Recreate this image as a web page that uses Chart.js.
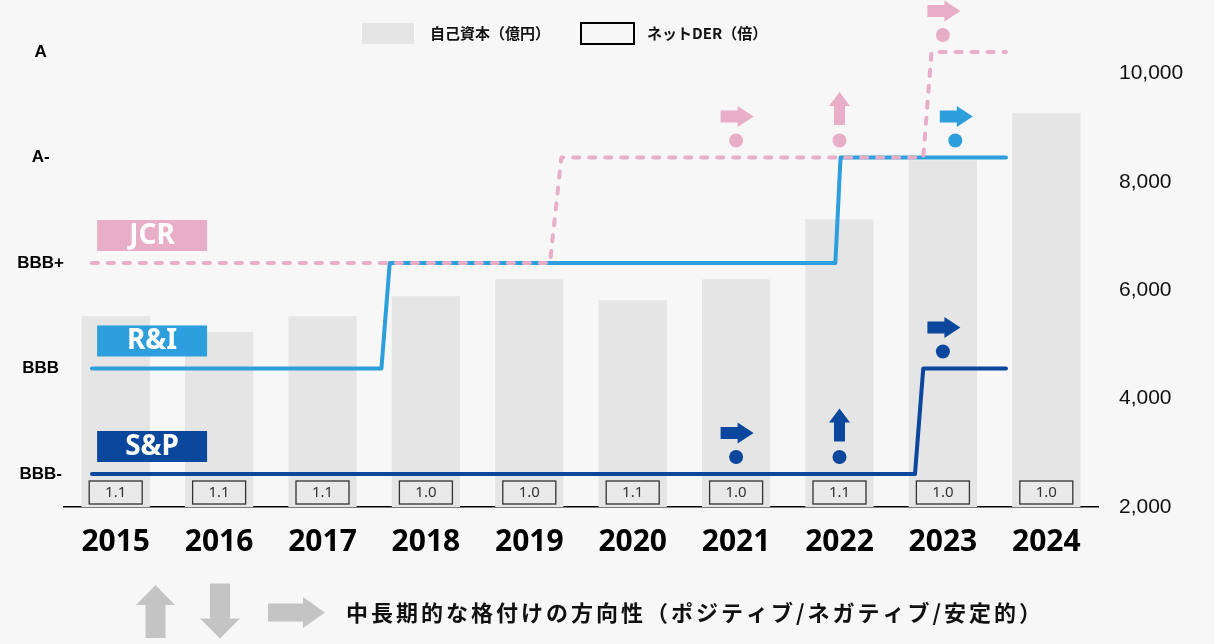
<!DOCTYPE html>
<html lang="ja">
<head>
<meta charset="UTF-8">
<title>自己資本・ネットDERと格付けの推移</title>
<script src="https://cdn.jsdelivr.net/npm/chart.js@4.4.1/dist/chart.umd.min.js"></script>
<style>
  html, body { margin: 0; padding: 0; background: #f7f7f7; overflow: hidden; }
  canvas { display: block; }
</style>
</head>
<body>
<canvas id="ratingChart" width="1214" height="644"></canvas>
<script>
// 年度
const years = ['2015', '2016', '2017', '2018', '2019', '2020', '2021', '2022', '2023', '2024'];
// 自己資本（億円）
const equity = [5520, 5230, 5520, 5890, 6200, 5815, 6200, 7310, 8400, 9270];
// ネットDER（倍）
const netDer = [1.1, 1.1, 1.1, 1.0, 1.0, 1.1, 1.0, 1.1, 1.0, 1.0];
// 右軸の目盛り
const equityTicks = [2000, 4000, 6000, 8000, 10000];
// 格付けの段階（下から）
const ratingScale = ['BBB-', 'BBB', 'BBB+', 'A-', 'A'];

// 各社の格付け推移（x は年度の位置：0 = 2015 ... 9 = 2024）
const spX = [-0.23, 7.73, 7.81, 8.61];
const spRating = ['BBB-', 'BBB-', 'BBB', 'BBB'];
const riX = [-0.23, 2.57, 2.65, 6.96, 7.01, 8.61];
const riRating = ['BBB', 'BBB', 'BBB+', 'BBB+', 'A-', 'A-'];
const jcrX = [-0.23, 4.20, 4.31, 7.81, 7.89, 8.61];
const jcrRating = ['BBB+', 'BBB+', 'A-', 'A-', 'A', 'A'];

// 中長期的な格付けの方向性（位置・格付け・向き）
const jcrOutlookX = [6, 7, 8];
const jcrOutlookRating = ['A-', 'A-', 'A'];
const jcrOutlookDir = ['stable', 'positive', 'stable'];
const riOutlookX = [8.12];
const riOutlookRating = ['A-'];
const riOutlookDir = ['stable'];
const spOutlookX = [6, 7, 8];
const spOutlookRating = ['BBB-', 'BBB-', 'BBB'];
const spOutlookDir = ['stable', 'positive', 'stable'];

const COLOR_JCR = '#e8adc7';
const COLOR_RI = '#2e9fdd';
const COLOR_SP = '#0a479d';
const COLOR_BAR = '#e5e5e5';
const CJK = '"Noto Sans CJK JP", "Noto Sans", sans-serif';

function toPoints(xs, ratings) {
    return xs.map((x, i) => ({ x: x, y: ratingScale.indexOf(ratings[i]) }));
}

const agencies = [
    { name: 'JCR', color: COLOR_JCR, xs: jcrOutlookX, ratings: jcrOutlookRating, dirs: jcrOutlookDir, start: jcrRating[0] },
    { name: 'R&I', color: COLOR_RI, xs: riOutlookX, ratings: riOutlookRating, dirs: riOutlookDir, start: riRating[0] },
    { name: 'S&P', color: COLOR_SP, xs: spOutlookX, ratings: spOutlookRating, dirs: spOutlookDir, start: spRating[0] }
];

// 矢印（中心 cx, cy から angle 方向）
function drawArrow(ctx, cx, cy, angle, len, headLen, shaftW, headW, color) {
    ctx.save();
    ctx.translate(cx, cy);
    ctx.rotate(angle);
    const x0 = -len / 2;
    const xh = len / 2 - headLen;
    ctx.beginPath();
    ctx.moveTo(x0, -shaftW / 2);
    ctx.lineTo(xh, -shaftW / 2);
    ctx.lineTo(xh, -headW / 2);
    ctx.lineTo(len / 2, 0);
    ctx.lineTo(xh, headW / 2);
    ctx.lineTo(xh, shaftW / 2);
    ctx.lineTo(x0, shaftW / 2);
    ctx.closePath();
    ctx.fillStyle = color;
    ctx.fill();
    ctx.restore();
}

// --- ネットDER の枠、格付け会社名、方向性マーク ---
const decorations = {
    id: 'decorations',
    afterDatasetsDraw(chart) {
        const ctx = chart.ctx;
        const xs = chart.scales.x;
        const xl = chart.scales.xl;
        const yr = chart.scales.yr;
        const bottom = chart.chartArea.bottom;

        // ネットDER
        ctx.save();
        netDer.forEach((v, i) => {
            const cx = xs.getPixelForValue(i);
            ctx.fillStyle = '#e9e9e9';
            ctx.fillRect(cx - 26.5, bottom - 26, 53, 23);
            ctx.strokeStyle = '#333';
            ctx.lineWidth = 1.3;
            ctx.strokeRect(cx - 26.5, bottom - 26, 53, 23);
            ctx.fillStyle = '#333';
            ctx.font = '15px "Noto Sans", sans-serif';
            ctx.textAlign = 'center';
            ctx.textBaseline = 'middle';
            ctx.fillText(v.toFixed(1), cx, bottom - 14);
        });
        ctx.restore();

        agencies.forEach(a => {
            // 会社名ラベル
            const lineY = yr.getPixelForValue(ratingScale.indexOf(a.start));
            const bx = xl.getPixelForValue(-0.18);
            ctx.save();
            ctx.fillStyle = a.color;
            ctx.fillRect(bx, lineY - 43, 110, 31);
            ctx.fillStyle = '#fff';
            ctx.font = 'bold 28px "Noto Sans", sans-serif';
            ctx.textAlign = 'center';
            ctx.textBaseline = 'middle';
            ctx.fillText(a.name, bx + 55, lineY - 27);
            ctx.restore();

            // 方向性
            a.xs.forEach((x, i) => {
                const px = xl.getPixelForValue(x);
                const dotY = yr.getPixelForValue(ratingScale.indexOf(a.ratings[i])) - 17;
                ctx.save();
                ctx.fillStyle = a.color;
                ctx.beginPath();
                ctx.arc(px, dotY, 7, 0, Math.PI * 2);
                ctx.fill();
                ctx.restore();
                if (a.dirs[i] === 'positive') {
                    drawArrow(ctx, px, dotY - 32, -Math.PI / 2, 33, 14, 11, 21, a.color);
                } else if (a.dirs[i] === 'negative') {
                    drawArrow(ctx, px, dotY - 32, Math.PI / 2, 33, 14, 11, 21, a.color);
                } else {
                    drawArrow(ctx, px + 1, dotY - 24, 0, 33, 16, 12, 21, a.color);
                }
            });
        });
    },
    afterDraw(chart) {
        const ctx = chart.ctx;
        ctx.save();
        // 上の凡例
        ctx.fillStyle = COLOR_BAR;
        ctx.fillRect(362, 23, 52, 21);
        ctx.strokeStyle = '#000';
        ctx.lineWidth = 2;
        ctx.strokeRect(581, 23, 53, 21);
        ctx.fillStyle = '#111';
        ctx.font = 'bold 15px ' + CJK;
        ctx.textBaseline = 'middle';
        ctx.textAlign = 'left';
        ctx.fillText('自己資本（億円）', 430, 33);
        ctx.fillText('ネットDER（倍）', 647, 33);

        // 下の凡例
        const grey = '#c4c4c4';
        drawArrow(ctx, 155.5, 611.5, -Math.PI / 2, 53, 20, 20, 39, grey);
        drawArrow(ctx, 220, 611, Math.PI / 2, 55, 20, 20, 40, grey);
        drawArrow(ctx, 296.5, 612.5, 0, 57, 22, 18, 31, grey);
        ctx.fillStyle = '#111';
        ctx.font = 'bold 22px ' + CJK;
        ctx.letterSpacing = '3px';
        ctx.fillText('中長期的な格付けの方向性（ポジティブ/ネガティブ/安定的）', 346, 613);
        ctx.restore();
    }
};

const lineBase = {
    type: 'line',
    xAxisID: 'xl',
    yAxisID: 'yr',
    borderWidth: 4,
    borderCapStyle: 'round',
    borderJoinStyle: 'round',
    pointRadius: 0,
    tension: 0,
    clip: false
};

const ctx = document.getElementById('ratingChart');

new Chart(ctx, {
    type: 'bar',
    data: {
        labels: years,
        datasets: [
            Object.assign({}, lineBase, {
                label: 'JCR',
                data: toPoints(jcrX, jcrRating),
                borderColor: COLOR_JCR,
                borderDash: [6, 10],
                order: 1
            }),
            Object.assign({}, lineBase, {
                label: 'R&I',
                data: toPoints(riX, riRating),
                borderColor: COLOR_RI,
                order: 2
            }),
            Object.assign({}, lineBase, {
                label: 'S&P',
                data: toPoints(spX, spRating),
                borderColor: COLOR_SP,
                order: 3
            }),
            {
                label: '自己資本（億円）',
                data: equity,
                xAxisID: 'x',
                yAxisID: 'y',
                backgroundColor: COLOR_BAR,
                barPercentage: 0.66,
                categoryPercentage: 1,
                grouped: false,
                order: 10
            }
        ]
    },
    options: {
        responsive: false,
        animation: false,
        layout: { padding: { left: 16, right: 0, top: 20, bottom: 77 } },
        plugins: {
            legend: { display: false },
            tooltip: { enabled: false }
        },
        scales: {
            x: {
                type: 'category',
                position: 'bottom',
                offset: true,
                grid: { display: false, drawTicks: false },
                border: { display: true, color: '#000', width: 1.5 },
                ticks: {
                    color: '#000',
                    padding: 17,
                    font: { family: '"Noto Sans", sans-serif', size: 30, weight: 'bold' }
                },
                afterFit: s => { s.height = 60; }
            },
            xl: {
                type: 'linear',
                min: -0.5,
                max: 9.5,
                offset: false,
                display: false
            },
            y: {
                type: 'linear',
                position: 'right',
                min: 2000,
                max: 10990,
                grid: { display: false, drawTicks: false },
                border: { display: false },
                ticks: {
                    color: '#111',
                    padding: 21,
                    font: { family: '"Liberation Sans", Arial, sans-serif', size: 21 },
                    callback: v => v.toLocaleString('en-US')
                },
                afterBuildTicks: s => { s.ticks = equityTicks.map(v => ({ value: v })); },
                afterFit: s => { s.width = 116; s.paddingTop = 0; s.paddingBottom = 0; }
            },
            yr: {
                type: 'linear',
                position: 'left',
                min: -0.313,
                max: 4.303,
                grid: { display: false, drawTicks: false },
                border: { display: false },
                ticks: {
                    color: '#000',
                    padding: 0,
                    crossAlign: 'center',
                    font: { family: '"Liberation Sans", Arial, sans-serif', size: 17, weight: 'bold' },
                    callback: v => ratingScale[v]
                },
                afterBuildTicks: s => { s.ticks = ratingScale.map((_, i) => ({ value: i })); },
                afterFit: s => { s.width = 48; s.paddingTop = 0; s.paddingBottom = 0; }
            }
        }
    },
    plugins: [decorations]
});
</script>
</body>
</html>
